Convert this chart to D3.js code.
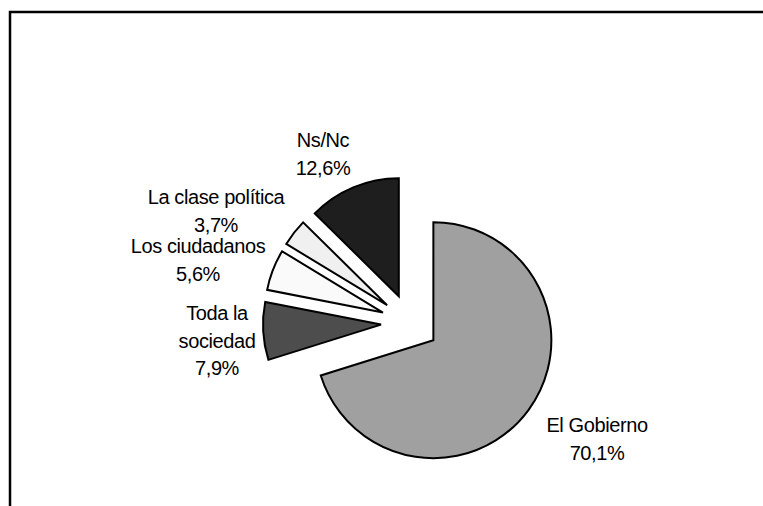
<!DOCTYPE html>
<html>
<head>
<meta charset="utf-8">
<script src="https://cdn.jsdelivr.net/npm/d3@7"></script>
<style>
  html, body { margin: 0; padding: 0; background: #fff; }
  svg { display: block; }
  text { font-family: "Liberation Sans", Arial, sans-serif; }
</style>
</head>
<body>
<svg id="chart" width="763" height="506"></svg>
<script>
// ---- data ----
const categories = ["El Gobierno", "Toda la sociedad", "Los ciudadanos", "La clase política", "Ns/Nc"];
const values = [70.1, 7.9, 5.6, 3.7, 12.6];
const valueLabels = ["70,1%", "7,9%", "5,6%", "3,7%", "12,6%"];
const nameLines = [["El Gobierno"], ["Toda la", "sociedad"], ["Los ciudadanos"], ["La clase política"], ["Ns/Nc"]];

// ---- layout / style ----
const colors = ["#a0a0a0", "#4d4d4d", "#fafafa", "#f0f0f0", "#1e1e1e"];
const center = [410, 323];
const radius = 118;
const explode = 29;
// label block centers (x, y of first line's middle)
const labelPos = [[597, 425], [217, 313], [198, 246], [216, 197], [323, 140]];
const lineH = 27.5;

const svg = d3.select("#chart");

// frame (top and left edges visible)
svg.append("path")
  .attr("d", "M10,506 L10,12 L763,12")
  .attr("fill", "none").attr("stroke", "#000").attr("stroke-width", 2.5);

const pie = d3.pie().sort(null).value(d => d)(values);
const arc = d3.arc().innerRadius(0).outerRadius(radius);

const g = svg.append("g").attr("transform", `translate(${center[0]},${center[1]})`);
g.selectAll("path.slice").data(pie).join("path")
  .attr("class", "slice")
  .attr("d", arc)
  .attr("transform", d => {
    const a = (d.startAngle + d.endAngle) / 2;
    return `translate(${explode * Math.sin(a)},${-explode * Math.cos(a)})`;
  })
  .attr("fill", (d, i) => colors[i])
  .attr("stroke", "#000")
  .attr("stroke-width", 2)
  .attr("stroke-linejoin", "miter");

// labels
categories.forEach((c, i) => {
  const lines = nameLines[i].concat([valueLabels[i]]);
  const t = svg.append("text")
    .attr("text-anchor", "middle")
    .attr("font-size", 20)
    .attr("letter-spacing", "-0.4px")
    .attr("fill", "#000");
  lines.forEach((ln, k) => {
    t.append("tspan")
      .attr("x", labelPos[i][0])
      .attr("y", labelPos[i][1] + k * lineH)
      .attr("dy", "0.35em")
      .text(ln);
  });
});
</script>
</body>
</html>
